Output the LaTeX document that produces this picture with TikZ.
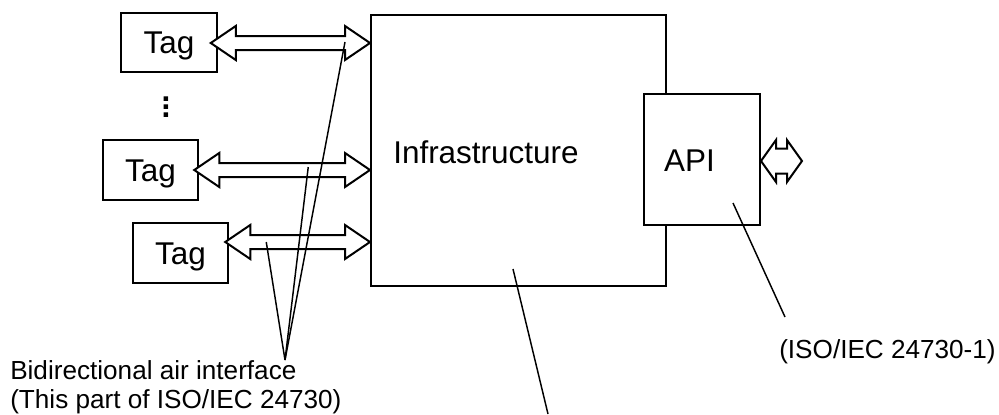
\documentclass[tikz,border=0pt]{standalone}
\usepackage{fontspec}
\setmainfont{Liberation Sans}
\usetikzlibrary{calc}
\begin{document}
\begin{tikzpicture}[x=0.75pt,y=-0.75pt,
  box/.style={draw,line width=1.5pt,inner sep=0pt,fill=white},
  tagbox/.style={box,minimum width={95.5*0.75pt},minimum height={59.5*0.75pt},
    font=\fontsize{23.6pt}{28pt}\selectfont,text height=16.9pt,text depth=0pt},
  lbl/.style={font=\fontsize{23.6pt}{28pt}\selectfont,inner sep=0pt},
  note/.style={font=\fontsize{19.6pt}{21.75pt}\selectfont,inner sep=0pt,align=left},
  leader/.style={line width=1.1pt},
  biarrow/.style n args={3}{draw,fill=white,line width=1.5pt,line join=miter,
    to path={-- ++(#1,-#2) -- ++(0,#2-#3) -- ($(\tikztotarget)+(-#1,-#3)$)
      -- ++(0,#3-#2) -- (\tikztotarget) -- ++(-#1,#2) -- ++(0,#3-#2)
      -- ($(\tikztostart)+(#1,#3)$) -- ++(0,#2-#3) -- cycle}}
]
\useasboundingbox (0,0) rectangle (999,414);

% main blocks
\node[box,minimum width={295*0.75pt},minimum height={271*0.75pt}] (infra) at (518.5,150.5) {};
\node[box,minimum width={116*0.75pt},minimum height={131*0.75pt}] (api) at (702,159.5) {};
\node[lbl,anchor=base west] (infratxt) at (393,163) {Infrastructure};
\node[lbl,anchor=base] (apitxt) at (689.5,171) {API};

% tags
\node[tagbox] (tag1) at (169,42.5) {Tag};
\node[tagbox] (tag2) at (150.5,170) {Tag};
\node[tagbox] (tag3) at (180.5,253) {Tag};
\node[lbl,align=center,font=\fontsize{23.6pt}{6pt}\selectfont\bfseries] (vdots) at (166,107.5) {.\\.\\.};

% air-interface arrows
\coordinate (a1s) at ($(tag1.east)+(-7,0.5)$);
\coordinate (a1e) at (infra.west |- a1s);
\coordinate (a2s) at ($(tag2.east)+(-5,0)$);
\coordinate (a2e) at (infra.west |- a2s);
\coordinate (a3s) at ($(tag3.east)+(-4,-11)$);
\coordinate (a3e) at (infra.west |- a3s);
\draw[biarrow={25}{17}{7}] (a1s) to (a1e);
\draw[biarrow={25}{17}{7}] (a2s) to (a2e);
\draw[biarrow={25}{17}{7}] (a3s) to (a3e);

% API arrow
\coordinate (apis) at ($(api.east)+(0,1.5)$);
\coordinate (apiout) at ($(apis)+(41,0)$);
\draw[biarrow={15}{21}{12.5}] (apis) to (apiout);

% labels
\node[note,anchor=base west] (bidir) at (10,408) {Bidirectional air interface\\(This part of ISO/IEC 24730)};
\node[note,anchor=base west] (isolbl) at (779,358) {(ISO/IEC 24730-1)};

% leader lines
\coordinate (bconv) at (285,360);
\coordinate (p1) at ($(a1e)+(-25,-1)$);
\coordinate (p2) at ($(a2s)+(114,-3)$);
\coordinate (p3) at ($(a3s)+(41,0)$);
\draw[leader] (bconv) -- (p1);
\draw[leader] (bconv) -- (p2);
\draw[leader] (bconv) -- (p3);

\coordinate (pinfra) at ($(infra.south)+(-5.5,-18)$);
\coordinate (infranote) at (548,414);
\draw[leader] (pinfra) -- (infranote);

\coordinate (papi) at ($(api.south)+(31,-23)$);
\coordinate (apinote) at (785,317);
\draw[leader] (papi) -- (apinote);
\end{tikzpicture}
\end{document}
